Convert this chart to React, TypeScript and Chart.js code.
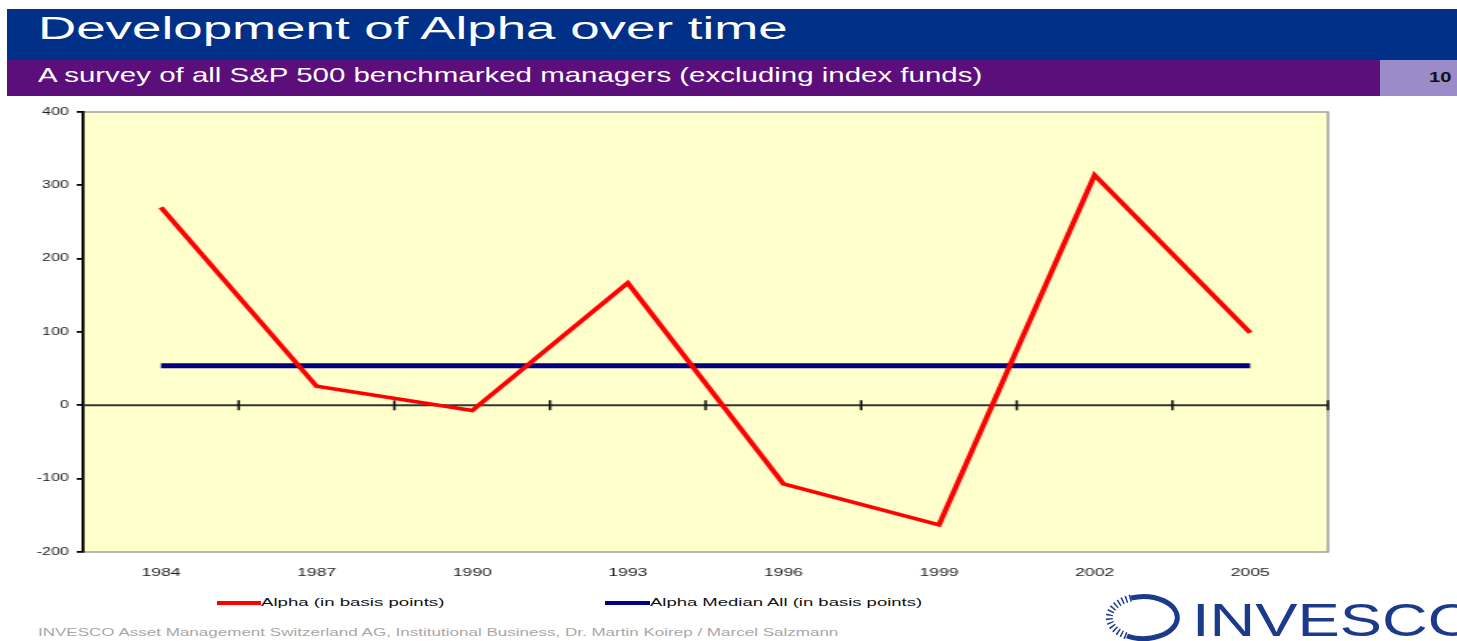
import React, { useEffect, useLayoutEffect, useRef, useState } from "react";
import { Chart, registerables } from "chart.js";

Chart.register(...registerables);

// Survey years on the category axis
const years = ["1984", "1987", "1990", "1993", "1996", "1999", "2002", "2005"];
// Alpha of S&P 500 benchmarked managers, basis points
const alphaBp = [270, 26, -7, 167, -107, -163, 314, 99];
// Median alpha over all years, basis points
const medianBp = [54, 54, 54, 54, 54, 54, 54, 54];
// Value axis ticks
const yTicks = [-200, -100, 0, 100, 200, 300, 400];

const seriesNames = ["Alpha (in basis points)", "Alpha Median All (in basis points)"];
const RED = "#ff0000";
const NAVY = "#000080";
const PLOT_BG = "#ffffcc";
const FONT = "'Liberation Sans', Arial, sans-serif";
const STRETCH = 1.6;

Chart.defaults.font.family = FONT;

// Plot-area fill, frame, zero line with category separators
const plotFrame = {
  id: "plotFrame",
  beforeDraw(chart: any) {
    const { ctx, chartArea } = chart;
    const { left, top, right, bottom } = chartArea;
    ctx.save();
    ctx.fillStyle = PLOT_BG;
    ctx.fillRect(left, top, right - left, bottom - top);
    ctx.strokeStyle = "#a0a0a0";
    ctx.lineWidth = 1.5;
    ctx.beginPath();
    ctx.moveTo(left, top);
    ctx.lineTo(right, top);
    ctx.lineTo(right, bottom);
    ctx.lineTo(left, bottom);
    ctx.stroke();
    ctx.restore();
  },
  beforeDatasetsDraw(chart: any) {
    const { ctx, chartArea, scales } = chart;
    const y0 = scales.y.getPixelForValue(0);
    ctx.save();
    ctx.strokeStyle = "#333333";
    ctx.lineWidth = 2;
    ctx.beginPath();
    ctx.moveTo(chartArea.left, y0);
    ctx.lineTo(chartArea.right, y0);
    ctx.stroke();
    ctx.lineWidth = 1.5;
    ctx.strokeStyle = "#111111";
    for (let i = 1; i <= years.length; i++) {
      const x = scales.x.getPixelForValue(i - 0.5);
      ctx.beginPath();
      ctx.moveTo(x, y0 - 5);
      ctx.lineTo(x, y0 + 5);
      ctx.stroke();
    }
    ctx.restore();
  },
};

function FitText(props: {
  text: string;
  left: number;
  top: number;
  width: number;
  size: number;
  color: string;
  weight?: string;
  family?: string;
}) {
  const ref = useRef<HTMLSpanElement>(null);
  const [sx, setSx] = useState(1);
  useLayoutEffect(() => {
    if (ref.current) {
      const w = ref.current.offsetWidth;
      if (w > 0) setSx(props.width / w);
    }
  }, [props.text, props.width, props.size]);
  return (
    <span
      ref={ref}
      style={{
        position: "absolute",
        left: props.left,
        top: props.top,
        fontSize: props.size,
        lineHeight: `${props.size}px`,
        fontFamily: props.family || FONT,
        fontWeight: (props.weight as any) || "normal",
        color: props.color,
        whiteSpace: "nowrap",
        transform: `scaleX(${sx})`,
        transformOrigin: "left top",
      }}
    >
      {props.text}
    </span>
  );
}

function AlphaChart() {
  const canvasRef = useRef<HTMLCanvasElement>(null);
  useEffect(() => {
    if (!canvasRef.current) return;
    const chart = new Chart(canvasRef.current, {
      type: "line",
      data: {
        labels: years,
        datasets: [
          {
            label: seriesNames[0],
            data: alphaBp,
            borderColor: RED,
            backgroundColor: RED,
            borderWidth: 3.5,
            pointRadius: 0,
            tension: 0,
          },
          {
            label: seriesNames[1],
            data: medianBp,
            borderColor: NAVY,
            backgroundColor: NAVY,
            borderWidth: 5,
            pointRadius: 0,
            tension: 0,
          },
        ],
      },
      options: {
        animation: false,
        responsive: false,
        devicePixelRatio: 1,
        events: [],
        layout: { padding: { top: 12, right: 10, left: 0, bottom: 0 } },
        plugins: {
          legend: { display: false },
          tooltip: { enabled: false },
        },
        scales: {
          x: {
            type: "category",
            offset: true,
            grid: { display: false, drawTicks: false },
            border: { display: false },
            ticks: {
              font: { size: 11 },
              color: "#1a1a1a",
              padding: 14,
              maxRotation: 0,
              autoSkip: false,
            },
            afterFit: (s: any) => {
              s.height = 38;
            },
          },
          y: {
            min: yTicks[0],
            max: yTicks[yTicks.length - 1],
            afterBuildTicks: (s: any) => {
              s.ticks = yTicks.map((v) => ({ value: v }));
            },
            ticks: { font: { size: 10 }, color: "#1a1a1a", padding: 5 },
            grid: {
              drawOnChartArea: false,
              drawTicks: true,
              tickLength: 4,
              color: "#000000",
              lineWidth: 1.8,
            },
            border: { display: true, color: "#000000", width: 1.8 },
            afterFit: (s: any) => {
              s.width = 52;
            },
          },
        },
      } as any,
      plugins: [plotFrame],
    });
    return () => chart.destroy();
  }, []);
  return (
    <canvas
      ref={canvasRef}
      width={840}
      height={490}
      style={{
        position: "absolute",
        left: 0,
        top: 100,
        transform: `scaleX(${STRETCH})`,
        transformOrigin: "0 0",
      }}
    />
  );
}

function LegendItem(props: { color: string; text: string; left: number; lineWidth: number; textWidth: number }) {
  return (
    <>
      <div
        style={{
          position: "absolute",
          left: props.left,
          top: 601,
          width: props.lineWidth,
          height: 4,
          background: props.color,
        }}
      />
      <FitText
        text={props.text}
        left={props.left + props.lineWidth}
        top={597}
        width={props.textWidth}
        size={11}
        color="#111111"
      />
    </>
  );
}

export default function App() {
  return (
    <div
      style={{
        position: "fixed",
        left: 0,
        top: 0,
        width: 1457,
        height: 641,
        background: "#ffffff",
        overflow: "hidden",
        fontFamily: FONT,
      }}
    >
      {/* header bands */}
      <div style={{ position: "absolute", left: 7, top: 9, width: 1450, height: 51, background: "#003087" }} />
      <div style={{ position: "absolute", left: 7, top: 60, width: 1373, height: 36, background: "#5c0f7b" }} />
      <div style={{ position: "absolute", left: 1380, top: 60, width: 77, height: 36, background: "#9b8bc8" }} />
      <FitText text="Development of Alpha over time" left={38} top={13} width={749} size={31} color="#ffffff" />
      <FitText
        text="A survey of all S&P 500 benchmarked managers (excluding index funds)"
        left={38}
        top={64}
        width={944}
        size={21}
        color="#ffffff"
      />
      <FitText text="10" left={1429} top={70} width={23} size={14} color="#111111" weight="bold" />

      <AlphaChart />

      <LegendItem color={RED} text={seriesNames[0]} left={217} lineWidth={44} textWidth={183} />
      <LegendItem color={NAVY} text={seriesNames[1]} left={605} lineWidth={45} textWidth={272} />

      <FitText
        text="INVESCO Asset Management Switzerland AG, Institutional Business, Dr. Martin Koirep / Marcel Salzmann"
        left={38}
        top={628}
        width={800}
        size={10}
        color="#a8a8a8"
      />

      {/* company mark */}
      <svg
        style={{ position: "absolute", left: 1105, top: 592 }}
        width={90}
        height={49}
        viewBox="0 0 90 49"
      >
        <path
          d="M 26 6 A 34 21 0 1 1 22 44"
          fill="none"
          stroke="#1c3a8c"
          strokeWidth={5}
        />
        <path
          d="M 26 6 A 34 21 0 0 0 22 44"
          fill="none"
          stroke="#1c3a8c"
          strokeWidth={7}
          strokeDasharray="1.5 2.5"
        />
      </svg>
      <FitText text="INVESCO" left={1192} top={597} width={285} size={46} color="#1c3a8c" />
    </div>
  );
}
